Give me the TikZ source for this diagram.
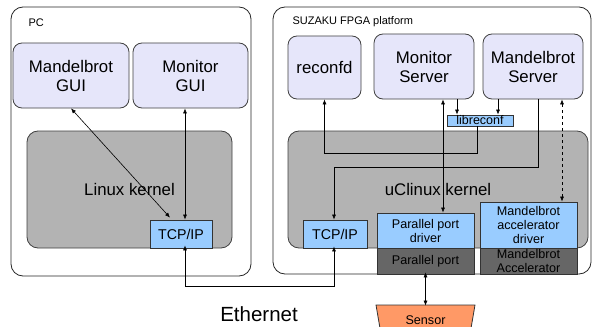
\documentclass[tikz,border=0pt]{standalone}
\usepackage{fontspec}
\setmainfont{Liberation Sans}
\usepackage{tikz}
\usetikzlibrary{arrows.meta, shapes.geometric}

\definecolor{appfill}{HTML}{E6E6FA}
\definecolor{kernfill}{HTML}{B3B3B3}
\definecolor{modfill}{HTML}{99CCFF}
\definecolor{hwfill}{HTML}{666666}
\definecolor{sensfill}{HTML}{FF9966}

\newcommand{\biglbl}{\fontsize{16.8}{19}\selectfont}
\newcommand{\tcplbl}{\fontsize{14.2}{16}\selectfont}
\newcommand{\midlbl}{\fontsize{12.6}{14}\selectfont}
\newcommand{\smalllbl}{\fontsize{11}{13}\selectfont}

\begin{document}
\begin{tikzpicture}[
    x=1pt, y=-1pt,
    >={Latex[length=5pt, width=4pt]},
    platform/.style={draw=black!85, line width=0.8pt, rounded corners=12pt, inner sep=0pt},
    app/.style={draw=black!75, line width=0.8pt, fill=appfill, rounded corners=9pt, inner sep=0pt, align=center, font=\biglbl},
    kernel/.style={draw=black!75, line width=0.8pt, fill=kernfill, rounded corners=11pt, inner sep=0pt, font=\biglbl},
    module/.style={draw=black!80, line width=0.8pt, fill=modfill, inner sep=0pt, align=center, font=\midlbl},
    hw/.style={draw=black!80, line width=0.8pt, fill=hwfill, inner sep=0pt, align=center, font=\midlbl},
    link/.style={line width=0.6pt}
]

\clip (0,0) rectangle (593,326);

% PC side
\node[platform, minimum width=240pt, minimum height=269pt] (pc) at (131,141.5) {};
\node[anchor=west, font=\smalllbl] (pclabel) at (25,23) {PC};
\node[app, minimum width=116pt, minimum height=65pt] (mgui) at (71,75.5) {Mandelbrot\\GUI};
\node[app, minimum width=115pt, minimum height=65pt] (mongui) at (190.5,75.5) {Monitor\\GUI};
\node[kernel, minimum width=205pt, minimum height=117pt] (linux) at (129.5,189.5) {Linux kernel};
\node[module, font=\tcplbl, minimum width=62pt, minimum height=28pt] (pctcp) at (181,234) {TCP/IP};

% FPGA side
\node[platform, minimum width=318pt, minimum height=267pt] (fpga) at (432,140.5) {};
\node[anchor=west, font=\smalllbl] (fpgalabel) at (289,22) {SUZAKU FPGA platform};
\node[app, minimum width=73pt, minimum height=63pt] (reconfd) at (324.5,67.5) {reconfd};
\node[app, minimum width=100pt, minimum height=65pt] (monsrv) at (424,66.5) {Monitor\\Server};
\node[app, minimum width=100pt, minimum height=65pt] (mansrv) at (533,66.5) {Mandelbrot\\Server};
\node[module, font=\fontsize{12.5}{13}\selectfont, minimum width=66pt, minimum height=11pt] (libreconf) at (480,120.5) {libreconf};
\node[kernel, minimum width=300pt, minimum height=117pt] (uclinux) at (438,189.5) {uClinux kernel};
\node[module, font=\tcplbl, minimum width=64pt, minimum height=28pt] (fptcp) at (335,234) {TCP/IP};
\node[module, minimum width=97pt, minimum height=35pt] (ppdrv) at (425.5,230.5) {Parallel port\\driver};
\node[hw, minimum width=97pt, minimum height=26pt] (pport) at (425.5,261) {Parallel port};
\node[module, minimum width=97pt, minimum height=46pt] (madrv) at (528.5,225) {Mandelbrot\\accelerator\\driver};
\node[hw, minimum width=97pt, minimum height=26pt] (macc) at (528.5,261) {Mandelbrot\\Accelerator};
\node[draw=black!80, line width=0.8pt, fill=sensfill, trapezium, trapezium stretches body,
      shape border rotate=180, trapezium angle=60, minimum width=99pt, minimum height=30pt,
      inner sep=0pt, font=\midlbl] (sensor) at (425.5,320) {Sensor};
\node[font=\fontsize{20.5}{23}\selectfont] (ethlabel) at (259,314) {Ethernet};

% PC links
\draw[link, <->] (mgui.south) -- ([xshift=-11pt, yshift=2pt]pctcp.north);
\draw[link, <->] ([xshift=4pt]pctcp.north |- mongui.south) -- ([xshift=4pt]pctcp.north);

% Ethernet
\draw[link, <->] ([xshift=4pt, yshift=3pt]pctcp.south) -- ++(0,41) -| ([xshift=-1pt, yshift=2pt]fptcp.south);

% FPGA links
\draw[link, ->] ([xshift=-3pt]libreconf.south) -- ++(0,27) -| (reconfd.south);
\draw[link, <->] ([xshift=19pt]monsrv.south) -- ([xshift=19pt]monsrv.south |- ppdrv.north);
\draw[link, ->] ([xshift=33pt]monsrv.south) -- ([xshift=33pt]monsrv.south |- libreconf.north);
\draw[link, ->] ([xshift=-35pt]mansrv.south) -- ([xshift=-35pt]mansrv.south |- libreconf.north);
\draw[link, ->] ([xshift=5pt]mansrv.south) -- ++(0,68) -| ([xshift=-1pt]fptcp.north);
\draw[link, <->, dashed] ([xshift=29pt]mansrv.south) -- ([xshift=29pt]mansrv.south |- madrv.north);
\draw[link, <->] ([yshift=2pt]pport.south) -- ([yshift=-1pt]sensor.north);

\end{tikzpicture}
\end{document}
